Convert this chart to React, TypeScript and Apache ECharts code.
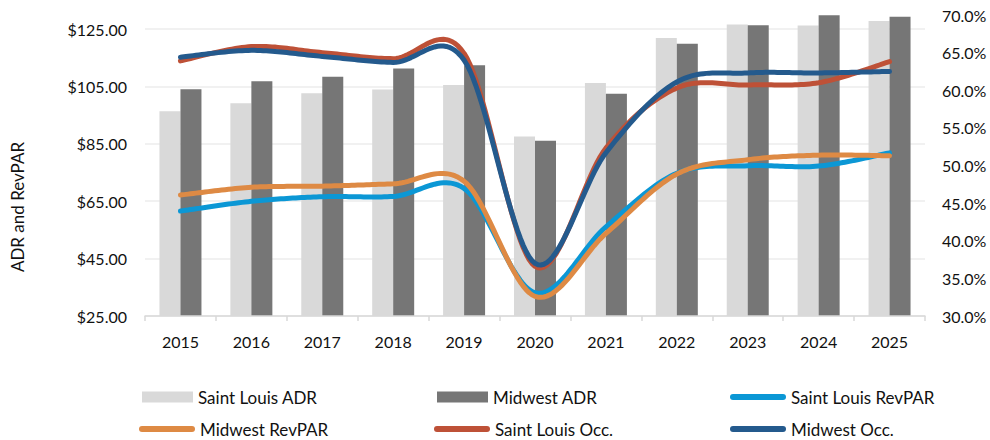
import React, { useEffect, useRef } from "react";
import * as echarts from "echarts";

const years = ["2015", "2016", "2017", "2018", "2019", "2020", "2021", "2022", "2023", "2024", "2025"];
const slADR = [96.4, 99.2, 102.7, 104.0, 105.6, 87.6, 106.3, 122.0, 126.7, 126.3, 127.9];
const mwADR = [104.1, 106.9, 108.5, 111.3, 112.5, 86.1, 102.5, 120.0, 126.4, 129.9, 129.4];
const slRevPAR = [61.6, 65.0, 66.6, 66.7, 69.5, 33.1, 56.1, 74.8, 77.4, 77.3, 81.9];
const mwRevPAR = [67.2, 69.9, 70.3, 71.1, 72.0, 31.85, 53.8, 74.5, 79.5, 81.1, 80.9];
const slOcc = [63.9, 65.8, 65.0, 64.2, 64.9, 36.6, 52.3, 60.3, 60.7, 61.0, 63.8];
const mwOcc = [64.4, 65.3, 64.5, 63.7, 64.0, 37.0, 51.7, 61.1, 62.3, 62.3, 62.5];

const FONT = "Lato";
const CAPSULE = "path://M3,0 L53,0 A3,3 0 0 1 53,6 L3,6 A3,3 0 0 1 3,0 Z";

function catmullRom(pts: number[][], steps = 24): number[][] {
  const out: number[][] = [];
  const n = pts.length;
  for (let i = 0; i < n - 1; i++) {
    const p0 = pts[Math.max(i - 1, 0)];
    const p1 = pts[i];
    const p2 = pts[i + 1];
    const p3 = pts[Math.min(i + 2, n - 1)];
    const c1 = [p1[0] + (p2[0] - p0[0]) / 6, p1[1] + (p2[1] - p0[1]) / 6];
    const c2 = [p2[0] - (p3[0] - p1[0]) / 6, p2[1] - (p3[1] - p1[1]) / 6];
    for (let s = i === 0 ? 0 : 1; s <= steps; s++) {
      const t = s / steps;
      const u = 1 - t;
      const a = u * u * u, b = 3 * u * u * t, c = 3 * u * t * t, d = t * t * t;
      out.push([
        a * p1[0] + b * c1[0] + c * c2[0] + d * p2[0],
        a * p1[1] + b * c1[1] + c * c2[1] + d * p2[1],
      ]);
    }
  }
  return out;
}

export default function App() {
  const ref = useRef<HTMLDivElement>(null);
  useEffect(() => {
    if (!ref.current) return;
    const chart = echarts.init(ref.current, null, { renderer: "svg" });
    const lineSeries = (name: string, values: number[], color: string, yi: number, z: number) => ({
      name,
      type: "custom",
      xAxisIndex: 1,
      yAxisIndex: yi,
      z,
      data: values.map((v, i) => [i, v]),
      encode: { x: 0, y: 1 },
      itemStyle: { color },
      renderItem: (params: any, api: any) => {
        if (params.dataIndex !== 0) return { type: "group", children: [] };
        const pts = values.map((v, i) => api.coord([i, v]));
        return {
          type: "polyline",
          shape: { points: catmullRom(pts) },
          style: { stroke: color, lineWidth: 5, fill: null, lineCap: "round", lineJoin: "round" },
        };
      },
    });
    const legendText = { fontSize: 17, fontFamily: FONT, color: "#111", lineHeight: 18 };
    const mkLegend = (name: string, left: number, top: number, isBar: boolean, color: string) => ({
      data: [{ name, icon: isBar ? "rect" : CAPSULE, itemStyle: { color } }],
      left,
      top,
      orient: "horizontal",
      padding: 0,
      itemWidth: isBar ? 51 : 56,
      itemHeight: isBar ? 11 : 6,
      textStyle: legendText,
      selectedMode: false,
    });
    const axisLabelStyle = { fontSize: 16, fontFamily: FONT, color: "#111" };
    chart.setOption({
      animation: false,
      backgroundColor: "#fff",
      grid: [
        { left: 145, right: 65, top: 29, bottom: 124 },
        { left: 145, right: 65, top: 15, bottom: 124 },
      ],
      xAxis: [
        {
          type: "category",
          gridIndex: 0,
          data: years,
          boundaryGap: true,
          axisLine: { lineStyle: { color: "#D9D9D9", width: 1.5 } },
          axisTick: { show: true, length: 5, lineStyle: { color: "#D9D9D9", width: 1.5 } },
          axisLabel: { ...axisLabelStyle, margin: 17 },
          z: 5,
        },
        { type: "category", gridIndex: 1, data: years, show: false },
      ],
      yAxis: [
        {
          type: "value",
          gridIndex: 0,
          min: 25,
          max: 125,
          interval: 20,
          axisLine: { show: false },
          axisTick: { show: false },
          splitLine: { lineStyle: { color: "#EDEDED", width: 1.5 } },
          axisLabel: { ...axisLabelStyle, margin: 18, formatter: (v: number) => "$" + v.toFixed(2) },
        },
        {
          type: "value",
          gridIndex: 1,
          position: "right",
          min: 30,
          max: 70,
          interval: 5,
          axisLine: { show: false },
          axisTick: { show: false },
          splitLine: { show: false },
          axisLabel: { ...axisLabelStyle, margin: 17, formatter: (v: number) => v.toFixed(1) + "%" },
        },
        {
          type: "value",
          gridIndex: 1,
          position: "left",
          min: 25,
          max: 130,
          show: false,
          splitLine: { show: false },
        },
      ],
      legend: [
        mkLegend("Saint Louis ADR", 142, 388, true, "#D9D9D9"),
        mkLegend("Midwest ADR", 437, 388, true, "#767676"),
        mkLegend("Saint Louis RevPAR", 730, 388, false, "#0B97D5"),
        mkLegend("Midwest RevPAR", 139, 420, false, "#DE8A44"),
        mkLegend("Saint Louis Occ.", 434, 420, false, "#BE5137"),
        mkLegend("Midwest Occ.", 730, 420, false, "#245A8D"),
      ],
      graphic: [
        {
          type: "text",
          x: 17,
          y: 207,
          rotation: Math.PI / 2,
          style: {
            text: "ADR and RevPAR",
            fontSize: 17,
            fontFamily: FONT,
            fill: "#111",
            textAlign: "center",
            textVerticalAlign: "middle",
          },
        },
      ],
      series: [
        {
          name: "Saint Louis ADR",
          type: "bar",
          data: slADR,
          xAxisIndex: 1,
          yAxisIndex: 2,
          barWidth: 21,
          barGap: "0%",
          clip: true,
          z: 2,
          itemStyle: { color: "#D9D9D9" },
        },
        {
          name: "Midwest ADR",
          type: "bar",
          data: mwADR,
          xAxisIndex: 1,
          yAxisIndex: 2,
          barWidth: 21,
          barGap: "0%",
          clip: true,
          z: 2,
          itemStyle: { color: "#767676" },
        },
        lineSeries("Saint Louis RevPAR", slRevPAR, "#0B97D5", 2, 3),
        lineSeries("Midwest RevPAR", mwRevPAR, "#DE8A44", 2, 4),
        lineSeries("Saint Louis Occ.", slOcc, "#BE5137", 1, 5),
        lineSeries("Midwest Occ.", mwOcc, "#245A8D", 1, 6),
      ],
    });
    return () => chart.dispose();
  }, []);
  return <div ref={ref} style={{ position: "fixed", left: 0, top: 0, width: 990, height: 440 }} />;
}
